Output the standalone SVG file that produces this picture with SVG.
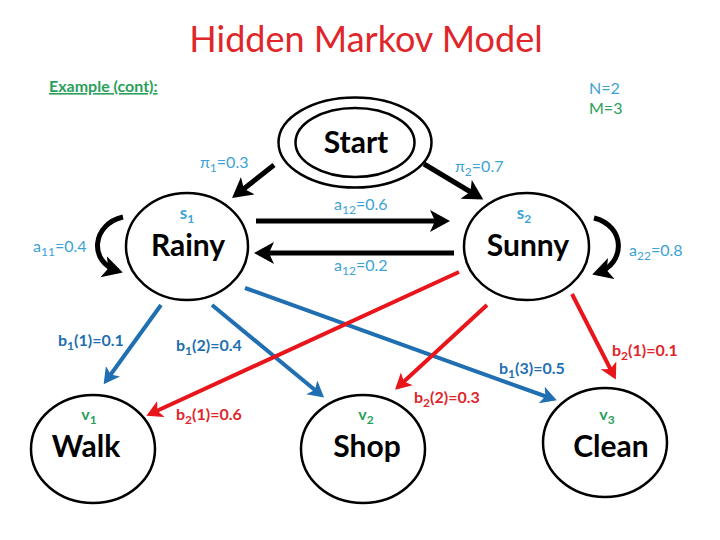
<svg xmlns="http://www.w3.org/2000/svg" width="720" height="540" viewBox="0 0 720 540">
<defs>
<style>
text{font-family:Lato,"Open Sans","Liberation Sans",sans-serif}
.node{fill:#fff;stroke:#000;stroke-width:2.5}
.big{font-size:30px;font-weight:bold;fill:#000;text-anchor:middle}
.lab{font-size:16px;fill:#3ca3d4}
.sl{font-size:17px;font-weight:bold;fill:#3ca3d4;text-anchor:middle}
.vl{font-size:16px;font-weight:bold;fill:#2aa05a;text-anchor:middle}
.bb{font-size:16px;font-weight:bold;fill:#1f6fb2}
.rb{font-size:16px;font-weight:bold;fill:#e0262b}
.blk{stroke:#000;stroke-width:5;fill:none}
.blu{stroke:#1f6fb2;stroke-width:4;fill:none}
.red{stroke:#e8151b;stroke-width:4;fill:none}
</style>
<marker id="mk" markerWidth="5" markerHeight="5" refX="3" refY="2.2" orient="auto" markerUnits="strokeWidth"><path d="M0,0 L4,2.2 L0,4.4 L1,2.2 Z" fill="#000"/></marker>
<marker id="mb" markerWidth="5" markerHeight="5" refX="3" refY="2.2" orient="auto" markerUnits="strokeWidth"><path d="M0,0 L4,2.2 L0,4.4 L1,2.2 Z" fill="#1f6fb2"/></marker>
<marker id="mr" markerWidth="5" markerHeight="5" refX="3" refY="2.2" orient="auto" markerUnits="strokeWidth"><path d="M0,0 L4,2.2 L0,4.4 L1,2.2 Z" fill="#e8151b"/></marker>
</defs>
<rect width="720" height="540" fill="#fff"/>
<text x="366" y="52" font-size="36" fill="#e0262b" text-anchor="middle">Hidden Markov Model</text>
<text x="49" y="92" font-size="16" font-weight="bold" fill="#2aa05a" text-decoration="underline">Example (cont):</text>
<text x="589" y="94" font-size="16" fill="#3ca3d4">N=2</text>
<text x="589" y="114" font-size="16" fill="#2aa05a">M=3</text>

<g id="connectors">
<line class="blk" x1="274" y1="165" x2="236" y2="195" marker-end="url(#mk)"/>
<line class="blk" x1="424" y1="164" x2="479" y2="197" marker-end="url(#mk)"/>
<line class="blk" x1="256" y1="221" x2="445" y2="221" stroke-width="4" marker-end="url(#mk)"/>
<line class="blk" x1="454" y1="253" x2="259" y2="253" stroke-width="4" marker-end="url(#mk)"/>
<path class="blk" d="M123,217 C92,224 88,262 118,271" stroke-width="6" marker-end="url(#mk)"/>
<path class="blk" d="M594,218 C626,226 626,264 597,273" stroke-width="6" marker-end="url(#mk)"/>
<line class="blu" x1="161" y1="305" x2="106" y2="381" marker-end="url(#mb)"/>
<line class="blu" x1="212" y1="305" x2="321" y2="395" marker-end="url(#mb)"/>
<line class="blu" x1="245" y1="288" x2="553" y2="399" marker-end="url(#mb)"/>
<line class="red" x1="459" y1="272" x2="150" y2="414" marker-end="url(#mr)"/>
<line class="red" x1="487" y1="305" x2="398" y2="387" marker-end="url(#mr)"/>
<line class="red" x1="572" y1="294" x2="614" y2="376" marker-end="url(#mr)"/>
</g>

<g id="start">
<ellipse class="node" cx="355" cy="142.5" rx="76.5" ry="45"/>
<ellipse class="node" cx="355" cy="142.5" rx="59.5" ry="34.5"/>
<text class="big" x="356" y="153" font-size="28">Start</text>
</g>
<g id="rainy">
<ellipse class="node" cx="187" cy="246.5" rx="61" ry="53.5"/>
<text class="sl" x="187" y="219">s<tspan font-size="12" dy="4">1</tspan></text>
<text class="big" x="188" y="256">Rainy</text>
</g>
<g id="sunny">
<ellipse class="node" cx="526.5" cy="246.5" rx="62.5" ry="53.5"/>
<text class="sl" x="524" y="219">s<tspan font-size="12" dy="4">2</tspan></text>
<text class="big" x="528" y="256">Sunny</text>
</g>
<g id="walk">
<ellipse class="node" cx="93" cy="449" rx="62" ry="54"/>
<text class="vl" x="89" y="420">v<tspan font-size="12" dy="4">1</tspan></text>
<text class="big" x="86" y="457">Walk</text>
</g>
<g id="shop">
<ellipse class="node" cx="363" cy="449" rx="62" ry="54"/>
<text class="vl" x="366" y="420">v<tspan font-size="12" dy="4">2</tspan></text>
<text class="big" x="367" y="457">Shop</text>
</g>
<g id="clean">
<ellipse class="node" cx="605" cy="442.5" rx="62" ry="54.5"/>
<text class="vl" x="607" y="420">v<tspan font-size="12" dy="4">3</tspan></text>
<text class="big" x="611" y="457">Clean</text>
</g>

<g id="labels">
<text class="lab" x="200" y="168">π<tspan font-size="12" dy="4">1</tspan><tspan dy="-4">=0.3</tspan></text>
<text class="lab" x="455" y="172">π<tspan font-size="12" dy="4">2</tspan><tspan dy="-4">=0.7</tspan></text>
<text class="lab" x="334" y="210">a<tspan font-size="12" dy="4">12</tspan><tspan dy="-4">=0.6</tspan></text>
<text class="lab" x="334" y="271">a<tspan font-size="12" dy="4">12</tspan><tspan dy="-4">=0.2</tspan></text>
<text class="lab" x="33" y="252">a<tspan font-size="12" dy="4">11</tspan><tspan dy="-4">=0.4</tspan></text>
<text class="lab" x="629" y="256">a<tspan font-size="12" dy="4">22</tspan><tspan dy="-4">=0.8</tspan></text>
<text class="bb" x="58" y="346">b<tspan font-size="12" dy="4">1</tspan><tspan dy="-4">(1)=0.1</tspan></text>
<text class="bb" x="176" y="351">b<tspan font-size="12" dy="4">1</tspan><tspan dy="-4">(2)=0.4</tspan></text>
<text class="rb" x="176" y="420">b<tspan font-size="12" dy="4">2</tspan><tspan dy="-4">(1)=0.6</tspan></text>
<text class="rb" x="414" y="403">b<tspan font-size="12" dy="4">2</tspan><tspan dy="-4">(2)=0.3</tspan></text>
<text class="bb" x="499" y="374">b<tspan font-size="12" dy="4">1</tspan><tspan dy="-4">(3)=0.5</tspan></text>
<text class="rb" x="612" y="356">b<tspan font-size="12" dy="4">2</tspan><tspan dy="-4">(1)=0.1</tspan></text>
</g>
</svg>
